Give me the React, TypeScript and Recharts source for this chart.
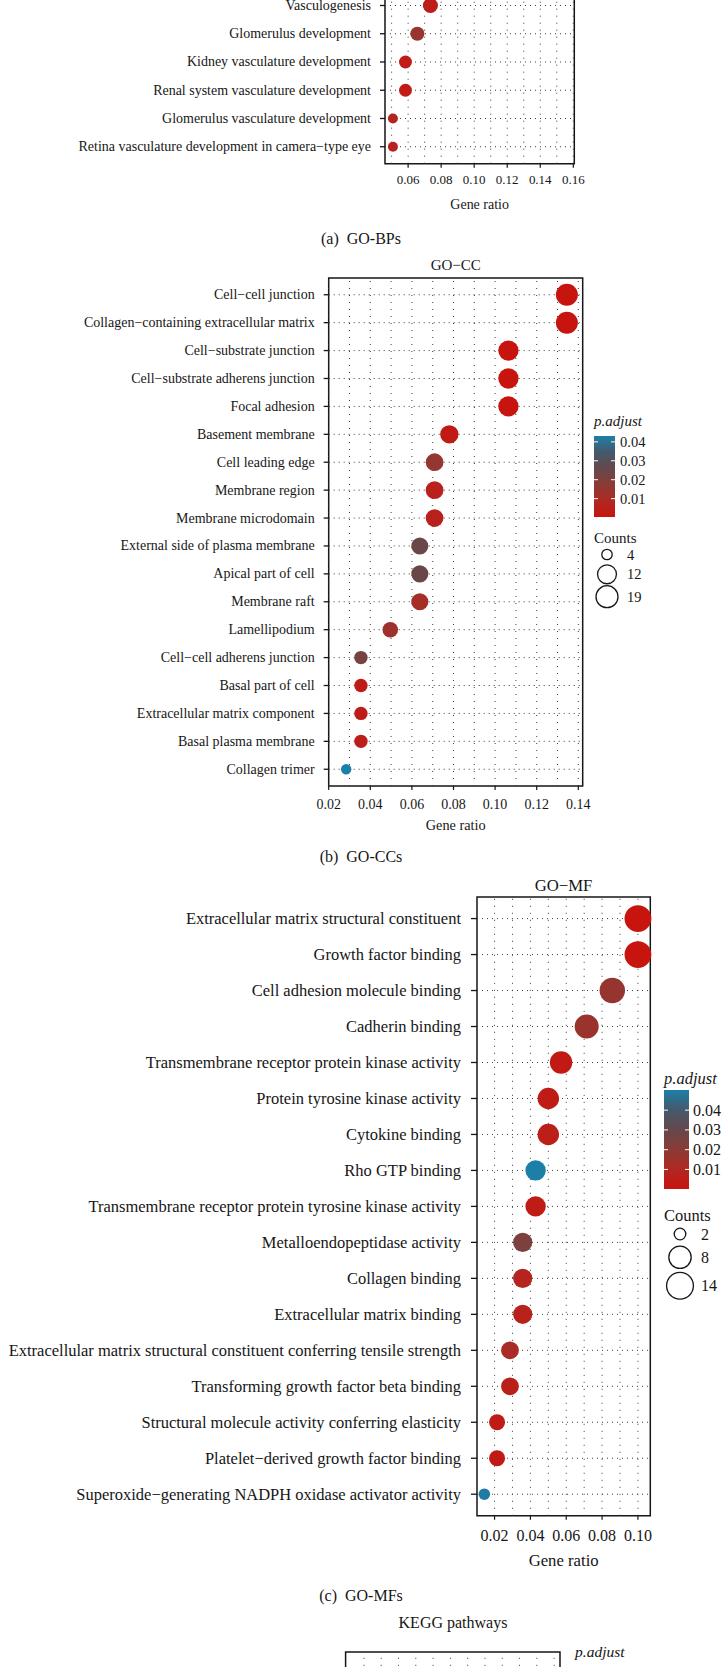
import React from "react";
import { ScatterChart, Scatter, XAxis, YAxis, ReferenceLine, ReferenceArea, Label } from "recharts";

const FONT = '"Liberation Serif", "Times New Roman", serif';
const INK = "#161616";

// ---- (a) GO-BP: only the lowest rows are inside the page ----
const BP_TERMS = [
  "Vasculogenesis",
  "Glomerulus development",
  "Kidney vasculature development",
  "Renal system vasculature development",
  "Glomerulus vasculature development",
  "Retina vasculature development in camera\u2212type eye",
];
const BP_RATIO = [0.0735, 0.0656, 0.0584, 0.0584, 0.0508, 0.0508];
const BP_COUNT = [10, 9, 8, 8, 7, 7];
const BP_PADJ = [0.004, 0.015, 0.003, 0.003, 0.008, 0.006];
const BP_TICKS = [0.06, 0.08, 0.1, 0.12, 0.14, 0.16];

// ---- (b) GO-CC ----
const CC_TERMS = [
  "Cell\u2212cell junction",
  "Collagen\u2212containing extracellular matrix",
  "Cell\u2212substrate junction",
  "Cell\u2212substrate adherens junction",
  "Focal adhesion",
  "Basement membrane",
  "Cell leading edge",
  "Membrane region",
  "Membrane microdomain",
  "External side of plasma membrane",
  "Apical part of cell",
  "Membrane raft",
  "Lamellipodium",
  "Cell\u2212cell adherens junction",
  "Basal part of cell",
  "Extracellular matrix component",
  "Basal plasma membrane",
  "Collagen trimer",
];
const CC_RATIO = [0.1345, 0.1345, 0.1064, 0.1064, 0.1064, 0.078, 0.0709, 0.0709, 0.0709, 0.0638, 0.0638, 0.0638, 0.0496, 0.0355, 0.0355, 0.0355, 0.0355, 0.0284];
const CC_COUNT = [19, 19, 15, 15, 15, 11, 10, 10, 10, 9, 9, 9, 7, 5, 5, 5, 5, 4];
const CC_PADJ = [0.0003, 0.0003, 0.0005, 0.0005, 0.0005, 0.003, 0.015, 0.006, 0.006, 0.025, 0.025, 0.011, 0.013, 0.022, 0.004, 0.004, 0.005, 0.0431];
const CC_TICKS = [0.02, 0.04, 0.06, 0.08, 0.1, 0.12, 0.14];
const CC_PADJ_BREAKS = [0.01, 0.02, 0.03, 0.04];
const CC_COUNT_BREAKS = [4, 12, 19];

// ---- (c) GO-MF ----
const MF_TERMS = [
  "Extracellular matrix structural constituent",
  "Growth factor binding",
  "Cell adhesion molecule binding",
  "Cadherin binding",
  "Transmembrane receptor protein kinase activity",
  "Protein tyrosine kinase activity",
  "Cytokine binding",
  "Rho GTP binding",
  "Transmembrane receptor protein tyrosine kinase activity",
  "Metalloendopeptidase activity",
  "Collagen binding",
  "Extracellular matrix binding",
  "Extracellular matrix structural constituent conferring tensile strength",
  "Transforming growth factor beta binding",
  "Structural molecule activity conferring elasticity",
  "Platelet\u2212derived growth factor binding",
  "Superoxide\u2212generating NADPH oxidase activator activity",
];
const MF_RATIO = [0.1, 0.1, 0.0857, 0.0714, 0.0571, 0.05, 0.05, 0.0429, 0.0429, 0.0357, 0.0357, 0.0357, 0.0286, 0.0286, 0.0214, 0.0214, 0.0143];
const MF_COUNT = [14, 14, 12, 10, 8, 7, 7, 6, 6, 5, 5, 5, 4, 4, 3, 3, 2];
const MF_PADJ = [0.0001, 0.0001, 0.017, 0.016, 0.003, 0.004, 0.005, 0.0502, 0.004, 0.024, 0.008, 0.007, 0.012, 0.006, 0.004, 0.003, 0.049];
const MF_TICKS = [0.02, 0.04, 0.06, 0.08, 0.1];
const MF_PADJ_BREAKS = [0.01, 0.02, 0.03, 0.04];
const MF_COUNT_BREAKS = [2, 8, 14];

// ---- (d) KEGG: only the first row peeks in at the bottom ----
const KEGG_TERMS = ["PI3K\u2212Akt signaling pathway"];
const KEGG_RATIO = [0.1445];
const KEGG_COUNT = [20];
const KEGG_PADJ = [0.0002];
const KEGG_TICKS = [0.05, 0.1, 0.15];

// red (small p.adjust) -> warm grey -> blue (large p.adjust)
const RAMP = ["#C8140F", "#B02822", "#8A3B36", "#65484C", "#45596B", "#1C7FA8"];

function hex(c: string) {
  return [1, 3, 5].map((i) => parseInt(c.slice(i, i + 2), 16));
}

function padjColor(p: number, lo: number, hi: number) {
  const t = Math.min(1, Math.max(0, (p - lo) / (hi - lo)));
  const s = t * (RAMP.length - 1);
  const i = Math.min(Math.floor(s), RAMP.length - 2);
  const a = hex(RAMP[i]);
  const b = hex(RAMP[i + 1]);
  const f = s - i;
  return `rgb(${a.map((v, k) => Math.round(v + (b[k] - v) * f)).join(",")})`;
}

// ggplot-like area scale: radius grows with sqrt of the rescaled count
function dotRadius(c: number, cr: number[], rr: number[]) {
  const t = Math.min(1, Math.max(0, (c - cr[0]) / (cr[1] - cr[0])));
  return rr[0] + (rr[1] - rr[0]) * Math.sqrt(t);
}

const seq = (a: number, b: number, step: number) => {
  const out: number[] = [];
  for (let v = a; v <= b + 1e-9; v += step) out.push(Math.round(v * 1000) / 1000);
  return out;
};

type PanelProps = {
  terms: string[];
  ratio: number[];
  count: number[];
  padj: number[];
  box: { left: number; right: number; top: number; bottom: number };
  xDomain: [number, number];
  xTicks: number[];
  xGrid: number[];
  yTop: number;
  padjRange: number[];
  countRange: number[];
  radius: number[];
  labelSize: number;
  tickFont: number;
  titleFont: number;
  yTickLen: number;
  yGap: number;
  xLabelDy: number;
  xTitleDy: number;
};

function DotPanel(p: PanelProps) {
  const n = p.terms.length;
  const data = p.terms.map((term, i) => ({
    term,
    ratio: p.ratio[i],
    row: n - i,
    count: p.count[i],
    padj: p.padj[i],
  }));
  const rows = data.map((d) => d.row).reverse();
  const mTop = 20;
  const mRight = 12;
  const axisH = 70;
  const width = p.box.right + mRight;
  const height = mTop + (p.box.bottom - p.box.top) + axisH;
  const yDomain: [number, number] = [0.4, p.yTop];

  return (
    <div style={{ position: "absolute", left: 0, top: p.box.top - mTop }}>
      <ScatterChart width={width} height={height} margin={{ top: mTop, right: mRight, bottom: 0, left: 0 }}>
        <XAxis
          type="number"
          dataKey="ratio"
          domain={p.xDomain}
          ticks={p.xTicks}
          interval={0}
          height={axisH}
          axisLine={false}
          tickSize={4}
          tickMargin={0}
          tickLine={{ stroke: INK, strokeWidth: 1.2 }}
          tick={(t: any) => (
            <text x={t.x} y={t.y + p.xLabelDy - 4} textAnchor="middle" dominantBaseline="central" fontFamily={FONT} fontSize={p.tickFont} fill={INK}>
              {Number(t.payload.value).toFixed(2)}
            </text>
          )}
        >
          <Label
            content={(l: any) => (
              <text
                x={l.viewBox.x + l.viewBox.width / 2}
                y={l.viewBox.y + p.xTitleDy}
                textAnchor="middle"
                dominantBaseline="central"
                fontFamily={FONT}
                fontSize={p.titleFont}
                fill={INK}
              >
                Gene ratio
              </text>
            )}
          />
        </XAxis>
        <YAxis
          type="number"
          dataKey="row"
          domain={yDomain}
          ticks={rows}
          interval={0}
          width={p.box.left}
          axisLine={false}
          tickSize={p.yTickLen}
          tickMargin={p.yGap}
          tickLine={{ stroke: INK, strokeWidth: 1.3 }}
          tick={(t: any) => (
            <text x={t.x} y={t.y} textAnchor="end" dominantBaseline="central" fontFamily={FONT} fontSize={p.labelSize} fill={INK}>
              {p.terms[n - t.payload.value]}
            </text>
          )}
        />
        {p.xGrid.map((v) => (
          <ReferenceLine key={`gx${v}`} x={v} stroke="#3a3a3a" strokeWidth={1} strokeDasharray="1 6" />
        ))}
        {rows.map((r) => (
          <ReferenceLine key={`gy${r}`} y={r} stroke="#3a3a3a" strokeWidth={1} strokeDasharray="1 4" />
        ))}
        <Scatter
          data={data}
          isAnimationActive={false}
          shape={(s: any) => (
            <circle
              cx={s.cx}
              cy={s.cy}
              r={dotRadius(s.payload.count, p.countRange, p.radius)}
              fill={padjColor(s.payload.padj, p.padjRange[0], p.padjRange[1])}
            />
          )}
        />
        <ReferenceArea
          x1={p.xDomain[0]}
          x2={p.xDomain[1]}
          y1={yDomain[0]}
          y2={yDomain[1]}
          fill="none"
          stroke={INK}
          strokeWidth={1.5}
        />
      </ScatterChart>
    </div>
  );
}

type LegendProps = {
  id: string;
  x: number;
  titleY: number;
  titleSize: number;
  labelSize: number;
  bar: { x: number; y: number; w: number; h: number };
  padjRange: number[];
  padjBreaks: number[];
  labelX: number;
  countTitleY?: number;
  countBreaks?: number[];
  countY?: number[];
  circleX?: number;
  countLabelX?: number;
  countRange?: number[];
  radius?: number[];
};

function Legend(l: LegendProps) {
  const [lo, hi] = l.padjRange;
  const yOf = (v: number) => l.bar.y + l.bar.h - ((v - lo) / (hi - lo)) * l.bar.h;
  const stops = RAMP.map((c, i) => ({ c, off: i / (RAMP.length - 1) }));
  return (
    <g fontFamily={FONT} fill={INK}>
      <defs>
        <linearGradient id={l.id} x1="0" y1="1" x2="0" y2="0">
          {stops.map((s) => (
            <stop key={s.off} offset={s.off} stopColor={s.c} />
          ))}
        </linearGradient>
      </defs>
      <text x={l.x} y={l.titleY} fontSize={l.titleSize} fontStyle="italic" dominantBaseline="central">
        p.adjust
      </text>
      <rect x={l.bar.x} y={l.bar.y} width={l.bar.w} height={l.bar.h} fill={`url(#${l.id})`} />
      {l.padjBreaks.map((v) => (
        <g key={v}>
          <line x1={l.bar.x} x2={l.bar.x + 4} y1={yOf(v)} y2={yOf(v)} stroke="#fff" strokeWidth={1} />
          <line x1={l.bar.x + l.bar.w - 4} x2={l.bar.x + l.bar.w} y1={yOf(v)} y2={yOf(v)} stroke="#fff" strokeWidth={1} />
          <text x={l.labelX} y={yOf(v)} fontSize={l.labelSize} dominantBaseline="central">
            {v.toFixed(2)}
          </text>
        </g>
      ))}
      {l.countBreaks && l.countY && l.countRange && l.radius && (
        <>
          <text x={l.x} y={l.countTitleY} fontSize={l.titleSize} dominantBaseline="central">
            Counts
          </text>
          {l.countBreaks.map((c, i) => (
            <g key={c}>
              <circle cx={l.circleX} cy={l.countY![i]} r={dotRadius(c, l.countRange!, l.radius!)} fill="none" stroke={INK} strokeWidth={1.3} />
              <text x={l.countLabelX} y={l.countY![i]} fontSize={l.labelSize} dominantBaseline="central">
                {c}
              </text>
            </g>
          ))}
        </>
      )}
    </g>
  );
}

const Caption = ({ x, y, size, children, anchor = "middle" }: any) => (
  <text x={x} y={y} fontFamily={FONT} fontSize={size} fill={INK} textAnchor={anchor} dominantBaseline="central" style={{ whiteSpace: "pre" }}>
    {children}
  </text>
);

export default function App() {
  const ccPadj = [Math.min(...CC_PADJ), Math.max(...CC_PADJ)];
  const mfPadj = [Math.min(...MF_PADJ), Math.max(...MF_PADJ)];
  const ccCount = [Math.min(...CC_COUNT), Math.max(...CC_COUNT)];
  const mfCount = [Math.min(...MF_COUNT), Math.max(...MF_COUNT)];
  const ccRadius = [5.2, 11];
  const mfRadius = [5.8, 13.4];

  return (
    <div style={{ position: "absolute", left: 0, top: 0, width: 722, height: 1667, overflow: "hidden", background: "#fff", fontFamily: FONT }}>
      <DotPanel
        terms={BP_TERMS}
        ratio={BP_RATIO}
        count={BP_COUNT}
        padj={BP_PADJ}
        box={{ left: 385, right: 574.3, top: 163.7 - 11.6 * 28.25, bottom: 163.7 }}
        xDomain={[0.046, 0.1606]}
        xTicks={BP_TICKS}
        xGrid={seq(0.05, 0.16, 0.01)}
        yTop={12}
        padjRange={[0, 0.045]}
        countRange={[7, 21]}
        radius={[5, 10.5]}
        labelSize={14}
        tickFont={13}
        titleFont={14}
        yTickLen={5}
        yGap={9}
        xLabelDy={16}
        xTitleDy={41}
      />
      <DotPanel
        terms={CC_TERMS}
        ratio={CC_RATIO}
        count={CC_COUNT}
        padj={CC_PADJ}
        box={{ left: 328.7, right: 582.7, top: 277.7, bottom: 785.7 }}
        xDomain={[0.02, 0.1421]}
        xTicks={CC_TICKS}
        xGrid={seq(0.02, 0.14, 0.01)}
        yTop={CC_TERMS.length + 0.6}
        padjRange={ccPadj}
        countRange={ccCount}
        radius={ccRadius}
        labelSize={14}
        tickFont={14}
        titleFont={14.3}
        yTickLen={5}
        yGap={9}
        xLabelDy={18.6}
        xTitleDy={39.3}
      />
      <DotPanel
        terms={MF_TERMS}
        ratio={MF_RATIO}
        count={MF_COUNT}
        padj={MF_PADJ}
        box={{ left: 477, right: 650.3, top: 896.7, bottom: 1515.5 }}
        xDomain={[0.0102, 0.1069]}
        xTicks={MF_TICKS}
        xGrid={seq(0.02, 0.1, 0.01)}
        yTop={MF_TERMS.length + 0.6}
        padjRange={mfPadj}
        countRange={mfCount}
        radius={mfRadius}
        labelSize={16.5}
        tickFont={16}
        titleFont={16.7}
        yTickLen={6}
        yGap={10}
        xLabelDy={19.5}
        xTitleDy={44.5}
      />
      <DotPanel
        terms={KEGG_TERMS}
        ratio={KEGG_RATIO}
        count={KEGG_COUNT}
        padj={KEGG_PADJ}
        box={{ left: 345.6, right: 560, top: 1652.3, bottom: 1652.3 + 3.6 * 33 }}
        xDomain={[0.0294, 0.1534]}
        xTicks={KEGG_TICKS}
        xGrid={seq(0.04, 0.15, 0.01)}
        yTop={1.6}
        padjRange={[0, 0.01]}
        countRange={[4, 20]}
        radius={[5.5, 11.8]}
        labelSize={16}
        tickFont={15}
        titleFont={15}
        yTickLen={5}
        yGap={9}
        xLabelDy={18}
        xTitleDy={40}
      />
      <svg width={722} height={1667} style={{ position: "absolute", left: 0, top: 0, pointerEvents: "none" }}>
        <Caption x={361} y={238} size={16}>(a)  GO-BPs</Caption>
        <Caption x={455.7} y={265} size={15}>{"GO\u2212CC"}</Caption>
        <Caption x={361} y={856} size={16}>(b)  GO-CCs</Caption>
        <Caption x={563.6} y={885.7} size={16.7}>{"GO\u2212MF"}</Caption>
        <Caption x={361} y={1595} size={16}>(c)  GO-MFs</Caption>
        <Caption x={453} y={1622.7} size={16}>KEGG pathways</Caption>
        <Legend
          id="ccbar"
          x={594}
          titleY={421}
          titleSize={15}
          labelSize={14.5}
          bar={{ x: 594, y: 436, w: 21, h: 81 }}
          padjRange={ccPadj}
          padjBreaks={CC_PADJ_BREAKS}
          labelX={620}
          countTitleY={538}
          countBreaks={CC_COUNT_BREAKS}
          countY={[554.5, 574.3, 596.7]}
          circleX={607}
          countLabelX={627}
          countRange={ccCount}
          radius={ccRadius}
        />
        <Legend
          id="mfbar"
          x={664}
          titleY={1078}
          titleSize={16.5}
          labelSize={16}
          bar={{ x: 664, y: 1090, w: 25, h: 99 }}
          padjRange={mfPadj}
          padjBreaks={MF_PADJ_BREAKS}
          labelX={693}
          countTitleY={1215}
          countBreaks={MF_COUNT_BREAKS}
          countY={[1234, 1257.3, 1285.7]}
          circleX={680}
          countLabelX={701}
          countRange={mfCount}
          radius={mfRadius}
        />
        <Caption x={575} y={1651} size={15.5} anchor="start">
          <tspan fontStyle="italic">p.adjust</tspan>
        </Caption>
      </svg>
    </div>
  );
}
